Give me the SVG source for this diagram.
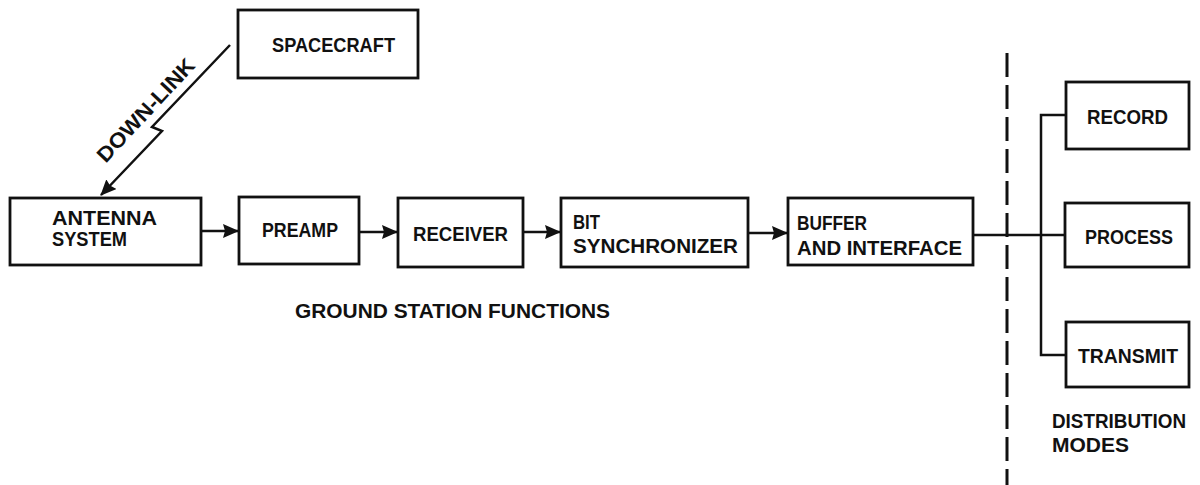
<svg xmlns="http://www.w3.org/2000/svg" width="1200" height="485" viewBox="0 0 1200 485">
<style>
.box{fill:#fff;stroke:#111;stroke-width:2.8}
.t{font-family:"Liberation Sans",Arial,sans-serif;font-size:21px;font-weight:bold;fill:#111}
.ln{fill:none;stroke:#111;stroke-width:2.5}
</style>
<defs>
<marker id="ah" markerWidth="16" markerHeight="14" refX="15" refY="7" orient="auto" markerUnits="userSpaceOnUse">
<path d="M0,0 L16,7 L0,14 L2,7 Z" fill="#111"/>
</marker>
</defs>
<rect width="1200" height="485" fill="#fff"/>
<g id="connectors">
<polyline class="ln" points="230,45 152,127 162,131 101,195" stroke-width="3" marker-end="url(#ah)"/>
<line class="ln" x1="201" y1="231" x2="238" y2="231" marker-end="url(#ah)"/>
<line class="ln" x1="359" y1="232" x2="397" y2="232" marker-end="url(#ah)"/>
<line class="ln" x1="523" y1="232" x2="560" y2="232" marker-end="url(#ah)"/>
<line class="ln" x1="748" y1="233" x2="787" y2="233" marker-end="url(#ah)"/>
<line class="ln" x1="973" y1="235" x2="1065" y2="235"/>
<polyline class="ln" points="1066,115 1041,115 1041,355 1066,355"/>
<line x1="1007" y1="53" x2="1007" y2="485" stroke="#111" stroke-width="3" stroke-dasharray="24 8"/>
</g>
<text class="t" transform="translate(151,115) rotate(-47)" text-anchor="middle" font-size="20" textLength="133" lengthAdjust="spacingAndGlyphs">DOWN-LINK</text>
<g id="spacecraft"><rect class="box" x="238" y="10" width="180" height="68"/><text class="t" x="272" y="52" textLength="123" lengthAdjust="spacingAndGlyphs">SPACECRAFT</text></g>
<g id="antenna"><rect class="box" x="10" y="198" width="191" height="67"/><text class="t" x="52" y="225" textLength="105" lengthAdjust="spacingAndGlyphs">ANTENNA</text><text class="t" x="52" y="246" textLength="75" lengthAdjust="spacingAndGlyphs">SYSTEM</text></g>
<g id="preamp"><rect class="box" x="239" y="197" width="120" height="67"/><text class="t" x="262" y="237" textLength="76" lengthAdjust="spacingAndGlyphs">PREAMP</text></g>
<g id="receiver"><rect class="box" x="398" y="198" width="125" height="69"/><text class="t" x="413" y="241" textLength="95" lengthAdjust="spacingAndGlyphs">RECEIVER</text></g>
<g id="bitsync"><rect class="box" x="561" y="198" width="187" height="69"/><text class="t" x="573" y="229" textLength="27" lengthAdjust="spacingAndGlyphs">BIT</text><text class="t" x="573" y="253" textLength="165" lengthAdjust="spacingAndGlyphs">SYNCHRONIZER</text></g>
<g id="buffer"><rect class="box" x="788" y="198" width="185" height="67"/><text class="t" x="797" y="230" textLength="70" lengthAdjust="spacingAndGlyphs">BUFFER</text><text class="t" x="797" y="255" textLength="165" lengthAdjust="spacingAndGlyphs">AND INTERFACE</text></g>
<g id="record"><rect class="box" x="1066" y="82" width="123" height="67"/><text class="t" x="1087" y="124" textLength="81" lengthAdjust="spacingAndGlyphs">RECORD</text></g>
<g id="process"><rect class="box" x="1065" y="203" width="124" height="64"/><text class="t" x="1085" y="244" textLength="88" lengthAdjust="spacingAndGlyphs">PROCESS</text></g>
<g id="transmit"><rect class="box" x="1066" y="322" width="123" height="65"/><text class="t" x="1078" y="363" textLength="100" lengthAdjust="spacingAndGlyphs">TRANSMIT</text></g>
<g id="labels">
<text class="t" x="295" y="318" font-size="18" textLength="315" lengthAdjust="spacingAndGlyphs">GROUND STATION FUNCTIONS</text>
<text class="t" x="1052" y="428" font-size="18" textLength="134" lengthAdjust="spacingAndGlyphs">DISTRIBUTION</text>
<text class="t" x="1052" y="452" font-size="18" textLength="77" lengthAdjust="spacingAndGlyphs">MODES</text>
</g>
</svg>
